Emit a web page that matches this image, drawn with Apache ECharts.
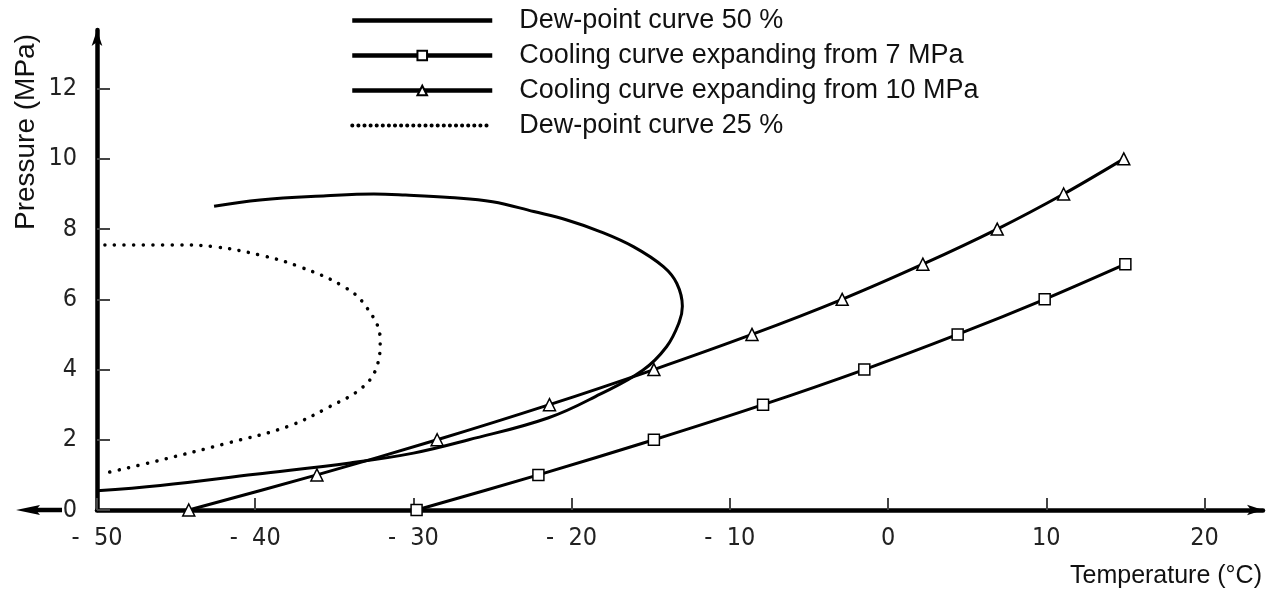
<!DOCTYPE html>
<html>
<head>
<meta charset="utf-8">
<script src="https://cdn.jsdelivr.net/npm/echarts@6/dist/echarts.min.js"></script>
<style>
    html, body { margin: 0; padding: 0; background: #fff; }
    #dewchart { width: 1281px; height: 599px; }
</style>
</head>
<body>
<div id="dewchart"></div>
<script>
    // temperature (°C) at each pressure step
    var cool7_p = [0, 1, 2, 3, 4, 5, 6, 7];
    var cool7_t = [-29.8, -22.1, -14.8, -7.9, -1.5, 4.4, 9.9, 15.0];
    var cool10_p = [0, 1, 2, 3, 4, 5, 6, 7, 8, 9, 10];
    var cool10_t = [-44.2, -36.1, -28.5, -21.4, -14.8, -8.6, -2.9, 2.2, 6.9, 11.1, 14.9];
    // dew-point curves, traced in drawing order
    var dew50_t = [-50, -46, -40, -34, -30, -26.5, -21.5, -18.2, -15.5, -14, -13.2, -13, -13.35, -14.2, -16.1, -18.2, -20.3, -22.4, -25, -27.7, -30.5, -32.5, -35.5, -39.7, -42.6];
    var dew50_p = [0.55, 0.7, 1.02, 1.34, 1.62, 2.0, 2.62, 3.3, 3.98, 4.65, 5.35, 5.8, 6.45, 6.93, 7.5, 7.93, 8.26, 8.5, 8.78, 8.9, 8.97, 9.0, 8.95, 8.83, 8.65];
    var dew25_t = [-49.5, -45, -42.6, -39.7, -37.2, -34.4, -33, -32.1, -32.3, -33.2, -35.3, -38, -41.8, -46, -49.4];
    var dew25_p = [7.55, 7.55, 7.5, 7.26, 6.93, 6.36, 5.8, 4.85, 4.1, 3.5, 2.94, 2.37, 1.9, 1.42, 1.06];
    var names = ['Dew-point curve 50 %', 'Cooling curve expanding from 7 MPa', 'Cooling curve expanding from 10 MPa', 'Dew-point curve 25 %'];

    var dewchart = (function (w, undefined) {
        'use strict';
        var myChart;
        var font = 'Liberation Sans, Arial, sans-serif';
        var narrow = 'Liberation Sans Narrow, DejaVu Sans Condensed, sans-serif';
        var pairs = function (xs, ys) {
            var out = [];
            for (var i = 0; i < xs.length; i++) {
                out.push([xs[i], ys[i]]);
            }
            return out;
        };
        var build_fig = function () {
            myChart = echarts.init(document.getElementById('dewchart'));
            var hidden = {opacity: 0, color: 'transparent', borderWidth: 0};
            var option = {
                animation: false,
                backgroundColor: '#fff',
                legend: {
                    orient: 'vertical',
                    left: 350,
                    top: 7,
                    padding: 0,
                    itemWidth: 140,
                    itemHeight: 12,
                    itemGap: 8,
                    data: [
                        {name: names[0], itemStyle: hidden},
                        {name: names[1]},
                        {name: names[2]},
                        {name: names[3], itemStyle: hidden,
                            lineStyle: {width: 4, type: [0.1, 6], cap: 'round'}}
                    ],
                    lineStyle: {width: 4.5},
                    textStyle: {
                        fontFamily: font,
                        fontSize: 27,
                        color: '#111',
                        padding: [0, 0, 0, 22]
                    }
                },
                grid: {
                    left: 97,
                    right: 18,
                    top: 30,
                    bottom: 89
                },
                xAxis: {
                    type: 'value',
                    min: -50,
                    max: 23.7,
                    interval: 10,
                    axisLine: {
                        onZero: false,
                        symbol: ['none', 'arrow'],
                        symbolSize: [8, 16],
                        lineStyle: {color: '#000', width: 4.5}
                    },
                    axisTick: {
                        inside: true,
                        length: 12,
                        lineStyle: {color: '#444', width: 2}
                    },
                    axisLabel: {
                        margin: 16,
                        showMaxLabel: false,
                        fontFamily: narrow,
                        fontSize: 25,
                        color: '#222',
                        formatter: function (v) {
                            return v < 0 ? '-  ' + (-v) : '' + v;
                        }
                    },
                    splitLine: {show: false}
                },
                yAxis: {
                    type: 'value',
                    min: 0,
                    max: 13.67,
                    interval: 2,
                    axisLine: {
                        onZero: false,
                        symbol: ['none', 'arrow'],
                        symbolSize: [8, 16],
                        lineStyle: {color: '#000', width: 4.5}
                    },
                    axisTick: {
                        inside: true,
                        length: 13,
                        lineStyle: {color: '#444', width: 2}
                    },
                    axisLabel: {
                        margin: 20,
                        showMaxLabel: false,
                        fontFamily: narrow,
                        fontSize: 25,
                        color: '#222'
                    },
                    splitLine: {show: false}
                },
                graphic: [
                    {
                        type: 'text',
                        x: 26,
                        y: 132,
                        rotation: Math.PI / 2,
                        style: {
                            text: 'Pressure (MPa)',
                            fontFamily: font,
                            fontSize: 28,
                            fill: '#111',
                            align: 'center',
                            verticalAlign: 'middle'
                        }
                    },
                    {
                        type: 'text',
                        right: 19,
                        top: 564,
                        style: {
                            text: 'Temperature (°C)',
                            fontFamily: font,
                            fontSize: 25,
                            fill: '#111'
                        }
                    },
                    // x axis stub left of the zero label
                    {
                        type: 'line',
                        shape: {x1: 62, y1: 510, x2: 30, y2: 510},
                        style: {stroke: '#000', lineWidth: 4.5}
                    },
                    {
                        type: 'polygon',
                        shape: {points: [[16, 510], [40, 505], [36, 510], [40, 515]]},
                        style: {fill: '#000'}
                    }
                ],
                series: [
                    {
                        name: names[0],
                        type: 'line',
                        smooth: 0.4,
                        showSymbol: false,
                        symbol: 'none',
                        lineStyle: {color: '#000', width: 3},
                        itemStyle: {color: '#000'},
                        data: pairs(dew50_t, dew50_p)
                    },
                    {
                        name: names[1],
                        type: 'line',
                        smooth: 0.3,
                        symbol: 'rect',
                        symbolSize: 11,
                        lineStyle: {color: '#000', width: 3},
                        itemStyle: {color: '#fff', borderColor: '#000', borderWidth: 1.5},
                        data: pairs(cool7_t, cool7_p)
                    },
                    {
                        name: names[2],
                        type: 'line',
                        smooth: 0.3,
                        symbol: 'triangle',
                        symbolSize: 12,
                        lineStyle: {color: '#000', width: 3},
                        itemStyle: {color: '#fff', borderColor: '#000', borderWidth: 1.5},
                        data: pairs(cool10_t, cool10_p)
                    },
                    {
                        name: names[3],
                        type: 'line',
                        smooth: 0.4,
                        symbol: 'none',
                        lineStyle: {color: '#000', width: 3.5, type: [0.1, 9.5], cap: 'round'},
                        itemStyle: {color: '#000'},
                        data: pairs(dew25_t, dew25_p)
                    }
                ]
            };
            myChart.setOption(option);
        };
        var init = function () {
            build_fig();
        };
        return {
            init: init
        };
    })(window);
    dewchart.init();
</script>
</body>
</html>
